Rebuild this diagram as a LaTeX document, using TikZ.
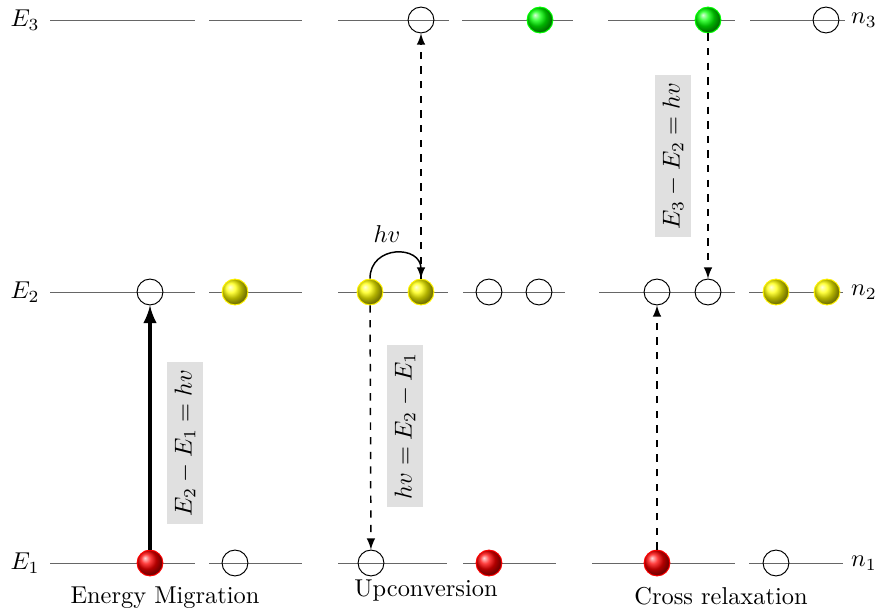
\documentclass[tikz,border=0pt]{standalone}
\usetikzlibrary{calc,positioning,arrows}

\begin{document}
\begin{tikzpicture}[x=0.41pt, y=-0.41pt
    , every node/.style={inner sep=1pt}
    , level/.style={black!60}
    , hole/.style={circle,draw,minimum size=10.6pt,inner sep=0pt}
    , ion/.style={circle,ball color=#1,draw=#1,minimum size=10.6pt,inner sep=0pt}
    , gaplabel/.style={fill=black!12,rotate=90,inner sep=3pt}
]
    \useasboundingbox (0,0) rectangle (879,615);

    % Levels.
    \foreach \y/\n in {20/3,292/2,563/1}
    {
        \node (E\n) at (25,\y) {$E_\n$};
        \node (n\n) at (864,\y) {$n_\n$};
    }
    \foreach \a/\b in {50/195,209/302,338/449,462/573,608/735,750/845}
        \draw[level] (\a,20) -- (\b,20);
    \foreach \a/\b in {50/195,209/302,338/448,463/565,599/735,749/843}
        \draw[level] (\a,292) -- (\b,292);
    \foreach \a/\b in {50/195,209/302,338/447,463/556,592/735,749/843}
        \draw[level] (\a,563) -- (\b,563);

    % Energy Migration
    \node[hole] (emh) at (150,292) {};
    \node[ion=yellow] (emy) at (235,292) {};
    \node[ion=red] (emr) at (150,563) {};
    \node[hole] (emh1) at (235,563) {};
    \draw[-latex,line width=1.5pt] (emr) -- (emh);
    \node[gaplabel] (emlab) at (185,443) {$E_2-E_1=hv$};
    \node (emt) at (165,598) {Energy Migration};

    % Upconversion
    \node[hole] (uph3) at (421,20) {};
    \node[ion=green] (upg) at (540,20) {};
    \node[ion=yellow] (upa) at (370,292) {};
    \node[ion=yellow] (upb) at (421,292) {};
    \node[hole] (uph2a) at (489,292) {};
    \node[hole] (uph2b) at (539,292) {};
    \node[hole] (uph1) at (371,563) {};
    \node[ion=red] (upr) at (489,563) {};
    \draw[-latex,dashed,semithick] (upa) -- (uph1);
    \draw[-latex,dashed,semithick] (upb) -- (uph3);
    \draw[-latex,semithick] (upa.north) to[out=90,in=90,looseness=1.7] (upb.north);
    \node (hv) at (387,234) {$hv$};
    \node[gaplabel] (uplab) at (405,426) {$hv=E_2-E_1$};
    \node (upt) at (426,591) {Upconversion};

    % Cross relaxation
    \node[ion=green] (crg) at (708,20) {};
    \node[hole] (crh3) at (826,20) {};
    \node[hole] (crh2a) at (657,292) {};
    \node[hole] (crh2b) at (708,292) {};
    \node[ion=yellow] (cry1) at (776,292) {};
    \node[ion=yellow] (cry2) at (827,292) {};
    \node[ion=red] (crr) at (657,563) {};
    \node[hole] (crh1) at (776,563) {};
    \draw[-latex,dashed,semithick] (crg) -- (crh2b);
    \draw[-latex,dashed,semithick] (crr) -- (crh2a);
    \node[gaplabel] (crlab) at (673,156) {$E_3-E_2=hv$};
    \node (crt) at (721,596) {Cross relaxation};
\end{tikzpicture}
\end{document}
